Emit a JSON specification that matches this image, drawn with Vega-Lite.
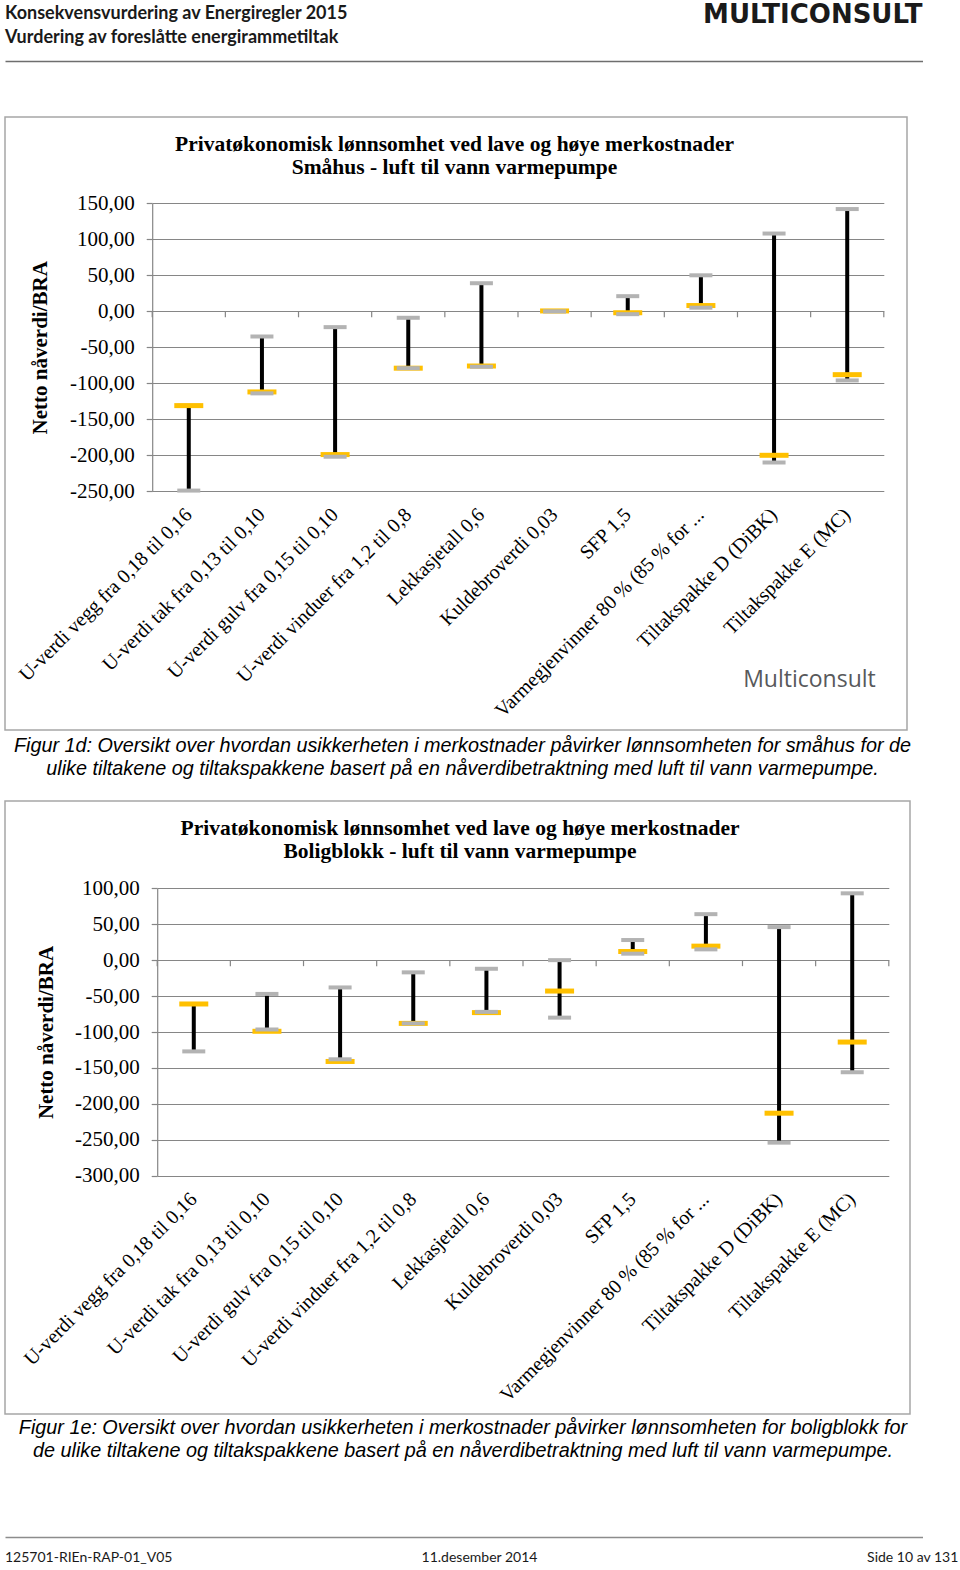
{
  "$schema": "https://vega.github.io/schema/vega-lite/v6.json",
  "background": "white",
  "padding": {"left": 4, "top": 0, "right": 0, "bottom": 0},
  "autosize": {"type": "pad"},
  "bounds": "flush",
  "spacing": 71,
  "config": {"view": {"stroke": null}, "font": "Liberation Sans"},
  "datasets": {
    "smahus": [
      {"tiltak": "U-verdi vegg fra 0,18 til 0,16", "lav": -249, "hoy": -131, "midt": -131},
      {"tiltak": "U-verdi tak fra 0,13 til 0,10", "lav": -114, "hoy": -35, "midt": -112},
      {"tiltak": "U-verdi gulv fra 0,15 til 0,10", "lav": -202, "hoy": -22, "midt": -199},
      {"tiltak": "U-verdi vinduer fra 1,2 til 0,8", "lav": -79, "hoy": -9, "midt": -79},
      {"tiltak": "Lekkasjetall 0,6", "lav": -77, "hoy": 39, "midt": -76},
      {"tiltak": "Kuldebroverdi 0,03", "lav": 0, "hoy": 0, "midt": 0.5},
      {"tiltak": "SFP 1,5", "lav": -4, "hoy": 21, "midt": -2},
      {"tiltak": "Varmegjenvinner 80 % (85 % for ...", "lav": 5, "hoy": 50, "midt": 8},
      {"tiltak": "Tiltakspakke D (DiBK)", "lav": -210, "hoy": 108, "midt": -200},
      {"tiltak": "Tiltakspakke E (MC)", "lav": -96, "hoy": 142, "midt": -88}
    ],
    "boligblokk": [
      {"tiltak": "U-verdi vegg fra 0,18 til 0,16", "lav": -127, "hoy": -61, "midt": -61},
      {"tiltak": "U-verdi tak fra 0,13 til 0,10", "lav": -96.5, "hoy": -47, "midt": -99},
      {"tiltak": "U-verdi gulv fra 0,15 til 0,10", "lav": -138, "hoy": -38, "midt": -141},
      {"tiltak": "U-verdi vinduer fra 1,2 til 0,8", "lav": -88, "hoy": -17, "midt": -88},
      {"tiltak": "Lekkasjetall 0,6", "lav": -72, "hoy": -12, "midt": -73},
      {"tiltak": "Kuldebroverdi 0,03", "lav": -80, "hoy": 0, "midt": -43},
      {"tiltak": "SFP 1,5", "lav": 9, "hoy": 28, "midt": 12},
      {"tiltak": "Varmegjenvinner 80 % (85 % for ...", "lav": 15, "hoy": 64, "midt": 19.5},
      {"tiltak": "Tiltakspakke D (DiBK)", "lav": -254, "hoy": 46, "midt": -213},
      {"tiltak": "Tiltakspakke E (MC)", "lav": -156, "hoy": 93, "midt": -114}
    ]
  },
  "vconcat": [
    {
      "width": 917.5,
      "height": 46,
      "title": {
        "text": ["Konsekvensvurdering av Energiregler 2015", "Vurdering av foreslåtte energirammetiltak"],
        "anchor": "start", "frame": "group", "baseline": "top", "offset": -47,
        "font": "Lato", "fontSize": 18, "fontWeight": "bold", "lineHeight": 24, "color": "#1a1a1a"
      },
      "data": {"values": [{"navn": "MULTICONSULT"}]},
      "mark": {"type": "text", "align": "right", "baseline": "top", "dy": 2, "font": "DejaVu Sans", "fontWeight": "bold", "fontSize": 26, "color": "#1a1a1a"},
      "encoding": {
        "text": {"field": "navn"},
        "x": {"datum": 1, "type": "quantitative", "scale": {"domain": [0, 1], "nice": false, "zero": false},
              "axis": {"orient": "bottom", "offset": 15, "labels": false, "ticks": false, "grid": false, "domainColor": "#6e6e6e", "domainWidth": 1.3, "title": null}},
        "y": {"datum": 1, "type": "quantitative", "scale": {"domain": [0, 1], "nice": false, "zero": false}, "axis": null}
      }
    },
    {
      "width": 902,
      "height": 613,
      "view": {"stroke": "#a6a6a6", "strokeWidth": 1.5},
      "title": {
        "text": ["Privatøkonomisk lønnsomhet ved lave og høye merkostnader", "Småhus - luft til vann varmepumpe"],
        "anchor": "middle", "frame": "group", "baseline": "top", "offset": -61, "dx": -1.5,
        "font": "Liberation Serif", "fontSize": 21.5, "fontWeight": "bold", "lineHeight": 23, "color": "#000000"
      },
      "data": {"name": "smahus"},
      "encoding": {
        "x": {
          "field": "tiltak", "type": "nominal", "sort": null,
          "scale": {"type": "band", "range": [147.2, 878.8], "paddingInner": 0, "paddingOuter": 0},
          "axis": {
            "orient": "bottom", "offset": -238.7,
            "labelAngle": -45, "labelAlign": "right", "labelBaseline": "middle", "labelPadding": 20,
            "labelFont": "Liberation Serif", "labelFontSize": 20, "labelColor": "#000000",
            "labelLimit": 600, "labelOverlap": false, "labelBound": false, "labelFlush": false,
            "ticks": false, "domain": false, "grid": false,
            "title": ["Figur 1d: Oversikt over hvordan usikkerheten i merkostnader påvirker lønnsomheten for småhus for de", "ulike tiltakene og tiltakspakkene basert på en nåverdibetraktning med luft til vann varmepumpe."],
            "titleFont": "Liberation Sans", "titleFontSize": 19.8, "titleFontStyle": "italic", "titleFontWeight": "normal",
            "titleLineHeight": 23, "titleColor": "#000000", "titleLimit": 2000,
            "titleX": 457, "titleY": 244, "titleAlign": "center", "titleBaseline": "top", "titleAngle": 0
          }
        }
      },
      "layer": [
        {
          "mark": {"type": "rule", "color": "#868686", "strokeWidth": 1.2},
          "encoding": {
            "x": {"field": "tiltak", "type": "nominal", "sort": null, "bandPosition": 0},
            "y": {
              "datum": 0, "type": "quantitative",
              "scale": {"domain": [-250, 150], "range": [374.3, 86.3], "nice": false, "zero": false},
              "axis": {
                "orient": "left", "offset": -147.2,
                "values": [-250, -200, -150, -100, -50, 0, 50, 100, 150],
                "labelExpr": "(datum.value < 0 ? '-' : '') + replace(format(abs(datum.value), '.2f'), '.', ',')",
                "labelFont": "Liberation Serif", "labelFontSize": 21, "labelColor": "#000000", "labelPadding": 12,
                "tickSize": 6, "tickColor": "#868686", "tickWidth": 1.2,
                "domainColor": "#868686", "domainWidth": 1.2,
                "grid": true, "gridColor": "#868686", "gridWidth": 1.2,
                "title": "Netto nåverdi/BRA", "titleFont": "Liberation Serif", "titleFontSize": 21, "titleFontWeight": "bold",
                "titleColor": "#000000", "titleAngle": -90, "titleX": -111.7, "titleY": 230.3, "titleBaseline": "middle", "titleAlign": "center"
              }
            },
            "y2": {"datum": -8.3}
          }
        },
        {
          "transform": [{"filter": "datum.tiltak == 'Tiltakspakke E (MC)'"}],
          "mark": {"type": "rule", "color": "#868686", "strokeWidth": 1.2},
          "encoding": {
            "x": {"field": "tiltak", "type": "nominal", "sort": null, "bandPosition": 1},
            "y": {"datum": 0, "type": "quantitative"},
            "y2": {"datum": -8.3}
          }
        },
        {
          "mark": {"type": "rule", "color": "#000000", "strokeWidth": 4},
          "encoding": {
            "y": {"field": "lav", "type": "quantitative"},
            "y2": {"field": "hoy"}
          }
        },
        {
          "mark": {"type": "tick", "color": "#b3b3b3", "thickness": 4, "size": 23, "opacity": 1},
          "encoding": {"y": {"field": "hoy", "type": "quantitative"}}
        },
        {
          "mark": {"type": "tick", "color": "#ffc000", "thickness": 5, "size": 29, "opacity": 1},
          "encoding": {"y": {"field": "midt", "type": "quantitative"}}
        },
        {
          "mark": {"type": "tick", "color": "#b3b3b3", "thickness": 4, "size": 23, "opacity": 1},
          "encoding": {"y": {"field": "lav", "type": "quantitative"}}
        },
        {
          "transform": [{"filter": "datum.tiltak == 'Tiltakspakke E (MC)'"}],
          "mark": {"type": "text", "text": "Multiconsult", "align": "right", "baseline": "middle", "dx": -8, "font": "Open Sans", "fontSize": 23, "color": "#58595b"},
          "encoding": {
            "x": {"field": "tiltak", "type": "nominal", "sort": null, "bandPosition": 1},
            "y": {"datum": -512, "type": "quantitative"}
          }
        }
      ]
    },
    {
      "width": 905,
      "height": 613,
      "view": {"stroke": "#a6a6a6", "strokeWidth": 1.5},
      "title": {
        "text": ["Privatøkonomisk lønnsomhet ved lave og høye merkostnader", "Boligblokk - luft til vann varmepumpe"],
        "anchor": "middle", "frame": "group", "baseline": "top", "offset": -61, "dx": 2.5,
        "font": "Liberation Serif", "fontSize": 21.5, "fontWeight": "bold", "lineHeight": 23, "color": "#000000"
      },
      "data": {"name": "boligblokk"},
      "encoding": {
        "x": {
          "field": "tiltak", "type": "nominal", "sort": null,
          "scale": {"type": "band", "range": [152.2, 883.8], "paddingInner": 0, "paddingOuter": 0},
          "axis": {
            "orient": "bottom", "offset": -238.3,
            "labelAngle": -45, "labelAlign": "right", "labelBaseline": "middle", "labelPadding": 20,
            "labelFont": "Liberation Serif", "labelFontSize": 20, "labelColor": "#000000",
            "labelLimit": 600, "labelOverlap": false, "labelBound": false, "labelFlush": false,
            "ticks": false, "domain": false, "grid": false,
            "title": ["Figur 1e: Oversikt over hvordan usikkerheten i merkostnader påvirker lønnsomheten for boligblokk for", "de ulike tiltakene og tiltakspakkene basert på en nåverdibetraktning med luft til vann varmepumpe."],
            "titleFont": "Liberation Sans", "titleFontSize": 19.8, "titleFontStyle": "italic", "titleFontWeight": "normal",
            "titleLineHeight": 23, "titleColor": "#000000", "titleLimit": 2000,
            "titleX": 457.5, "titleY": 242, "titleAlign": "center", "titleBaseline": "top", "titleAngle": 0
          }
        }
      },
      "layer": [
        {
          "mark": {"type": "rule", "color": "#868686", "strokeWidth": 1.2},
          "encoding": {
            "x": {"field": "tiltak", "type": "nominal", "sort": null, "bandPosition": 0},
            "y": {
              "datum": 0, "type": "quantitative",
              "scale": {"domain": [-300, 100], "range": [374.7, 87.3], "nice": false, "zero": false},
              "axis": {
                "orient": "left", "offset": -152.2,
                "values": [-300, -250, -200, -150, -100, -50, 0, 50, 100],
                "labelExpr": "(datum.value < 0 ? '-' : '') + replace(format(abs(datum.value), '.2f'), '.', ',')",
                "labelFont": "Liberation Serif", "labelFontSize": 21, "labelColor": "#000000", "labelPadding": 12,
                "tickSize": 6, "tickColor": "#868686", "tickWidth": 1.2,
                "domainColor": "#868686", "domainWidth": 1.2,
                "grid": true, "gridColor": "#868686", "gridWidth": 1.2,
                "title": "Netto nåverdi/BRA", "titleFont": "Liberation Serif", "titleFontSize": 21, "titleFontWeight": "bold",
                "titleColor": "#000000", "titleAngle": -90, "titleX": -110.7, "titleY": 231, "titleBaseline": "middle", "titleAlign": "center"
              }
            },
            "y2": {"datum": -8.35}
          }
        },
        {
          "transform": [{"filter": "datum.tiltak == 'Tiltakspakke E (MC)'"}],
          "mark": {"type": "rule", "color": "#868686", "strokeWidth": 1.2},
          "encoding": {
            "x": {"field": "tiltak", "type": "nominal", "sort": null, "bandPosition": 1},
            "y": {"datum": 0, "type": "quantitative"},
            "y2": {"datum": -8.35}
          }
        },
        {
          "mark": {"type": "rule", "color": "#000000", "strokeWidth": 4},
          "encoding": {
            "y": {"field": "lav", "type": "quantitative"},
            "y2": {"field": "hoy"}
          }
        },
        {
          "mark": {"type": "tick", "color": "#b3b3b3", "thickness": 4, "size": 23, "opacity": 1},
          "encoding": {"y": {"field": "hoy", "type": "quantitative"}}
        },
        {
          "mark": {"type": "tick", "color": "#ffc000", "thickness": 5, "size": 29, "opacity": 1},
          "encoding": {"y": {"field": "midt", "type": "quantitative"}}
        },
        {
          "mark": {"type": "tick", "color": "#b3b3b3", "thickness": 4, "size": 23, "opacity": 1},
          "encoding": {"y": {"field": "lav", "type": "quantitative"}}
        }
      ]
    },
    {
      "width": 917.5,
      "height": 52,
      "data": {"values": [{}]},
      "layer": [
        {
          "mark": {"type": "text", "text": "125701-RIEn-RAP-01_V05", "align": "left", "baseline": "top", "dy": 14, "font": "Lato", "fontSize": 14, "color": "#1a1a1a"},
          "encoding": {
            "x": {"datum": 0, "type": "quantitative", "scale": {"domain": [0, 1], "nice": false, "zero": false},
                  "axis": {"orient": "bottom", "offset": 0, "labels": false, "ticks": false, "grid": false, "domainColor": "#8c8c8c", "domainWidth": 1.3, "title": null}},
            "y": {"datum": 0, "type": "quantitative", "scale": {"domain": [0, 1], "nice": false, "zero": false}, "axis": null}
          }
        },
        {
          "mark": {"type": "text", "text": "11.desember 2014", "align": "left", "baseline": "top", "dy": 14, "font": "Lato", "fontSize": 14, "color": "#1a1a1a"},
          "encoding": {
            "x": {"datum": 0.454, "type": "quantitative"},
            "y": {"datum": 0, "type": "quantitative", "axis": null}
          }
        },
        {
          "mark": {"type": "text", "text": "Side 10 av 131", "align": "right", "baseline": "top", "dy": 14, "font": "Lato", "fontSize": 14, "color": "#1a1a1a"},
          "encoding": {
            "x": {"datum": 1.039, "type": "quantitative"},
            "y": {"datum": 0, "type": "quantitative", "axis": null}
          }
        }
      ]
    }
  ]
}
